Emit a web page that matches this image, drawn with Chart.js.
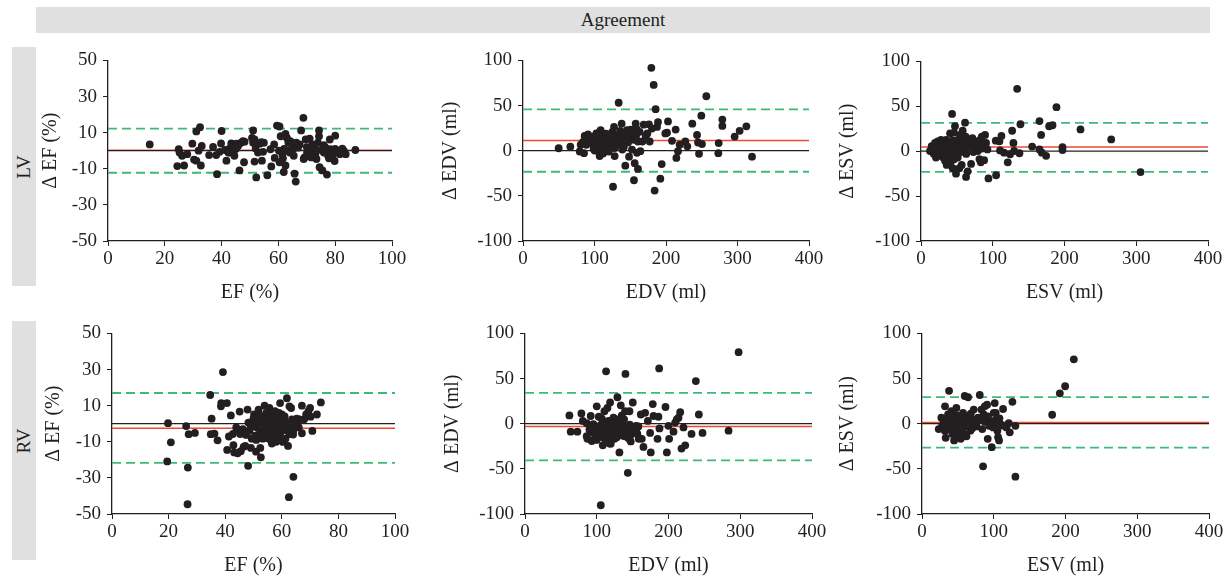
<!DOCTYPE html>
<html>
<head>
<meta charset="utf-8">
<script src="https://cdn.jsdelivr.net/npm/chart.js@4.4.0/dist/chart.umd.min.js"></script>
<style>
  body { margin: 0; background: #fff; width: 1231px; height: 580px; position: relative; overflow: hidden;
         font-family: "Liberation Serif", "DejaVu Serif", serif; color: #231f20; }
  .header { position: absolute; left: 36px; top: 7px; width: 1174px; height: 26px; background: #e0e0e0;
            text-align: center; line-height: 26px; font-size: 19px; }
  .row-label { position: absolute; left: 12px; width: 24px; background: #e0e0e0; }
  .row-label span { position: absolute; left: 50%; top: 50%; transform: translate(-50%, -50%) rotate(-90deg);
                    font-size: 19px; white-space: nowrap; }
  canvas { position: absolute; }
</style>
</head>
<body>
<div class="header">Agreement</div>
<div class="row-label" style="top:47px;height:239px"><span>LV</span></div>
<div class="row-label" style="top:321px;height:239px"><span>RV</span></div>

<script>
// Оси
const efXTicks = [0, 20, 40, 60, 80, 100];
const efYTicks = [-50, -30, -10, 10, 30, 50];
const volXTicks = [0, 100, 200, 300, 400];
const volYTicks = [-100, -50, 0, 50, 100];

// Среднее расхождение и границы согласия
const lvEfBias = 0.2,  lvEfLimits = [12.2, -12.2];
const lvEdvBias = 11.4, lvEdvLimits = [45.8, -23.3];
const lvEsvBias = 4.6, lvEsvLimits = [31.6, -23];
const rvEfBias = -2.5, rvEfLimits = [17, -21.7];
const rvEdvBias = -3.2, rvEdvLimits = [34.1, -40.6];
const rvEsvBias = 1.4, rvEsvLimits = [29.4, -26.6];

// Точки: [среднее, разница]
const lvEf = [[14.7,3.5],[24.9,0.8],[24.4,-8.5],[26.8,-8.2],[25.2,-1],[26.1,-2.8],[27.9,-1.9],[29.7,3.9],[30.3,-4.9],
  [31.1,-5.5],[31.1,10.7],[32.4,13],[31.9,0],[33,2.6],[32.7,-8.2],[35.6,-2.4],[37,2.1],[38.1,-2.4],[38.4,-13],[39.3,-0.6],
  [40,10.9],[39.8,4],[41.2,0.4],[41.7,-5.5],[42.4,-1],[42.8,1.2],[43.4,4],[44,0],[44.5,-2.8],[45.2,3.9],[45.8,2.6],
  [46.3,-10.9],[46.9,4.4],[47.5,5.3],[47.9,-6.4],[48.1,5],[51.1,11.2],[50.7,7.1],[51.1,4.4],[51.6,6.2],[52,1.2],
  [51.6,-6],[52.2,-14.8],[52.8,-1],[53.4,3.9],[54,4.8],[54.2,-5.5],[54.6,-0.6],[54.9,4.4],[56.1,-13.6],[57.2,0.8],
  [57.5,-8.7],[58.5,3.5],[58.7,-4],[59.5,13.9],[60.4,13.4],[60.2,0],[60.4,-6.4],[60.8,8],[61.4,-1.9],[61.6,-4.2],
  [61.9,-11.8],[62.5,-8.2],[62.5,9.3],[63,7.1],[63.5,4.4],[63.7,0],[64.2,5.3],[64.9,3.5],[65.1,0.8],[65.4,-2.8],
  [65.7,-12.7],[66.1,-17.1],[66.3,4.4],[66.9,1.7],[67.5,3.5],[68,11.2],[68.8,18.2],[68.9,-4.6],[69.2,-3.7],[69.6,6.2],
  [70.1,-1],[70.4,1.2],[71,6.7],[71.6,-3.7],[71.9,3.5],[72.2,0],[72.8,1.7],[73.4,-4.6],[73.9,4.4],[74.3,11.2],[74.3,8],
  [74.5,-9.1],[75.1,0.4],[75.5,-10.9],[76,3.1],[76.6,1.7],[77.1,-13.2],[77.5,-2.8],[77.8,-4.2],[78.1,6.2],[78.3,0.8],
  [79.2,-1.9],[79.8,-5.7],[80,8.3],[80.8,0],[81.6,-1.9],[82.5,1.2],[83,0],[83.7,-1.9],[87.1,0.4],
  [43,-1],[45,1],[62,1],[64,-1],[70,2],[73,-2],[76,-1],[80,1]];

const lvEdv = [[49.9,2.7],[66.2,4.5],[79.3,-0.9],[80.7,6.6],[83.9,9.8],[85.3,-2.7],[86.2,16.3],[88.6,6.6],[90.9,18.1],
  [93.2,12],[95.6,8.4],[97.9,15.6],[98.8,2],[100.2,0.2],[101.2,10.2],[102.6,19.1],[103.5,4.8],[104.9,14.5],[106.3,8.4],
  [107.2,20.9],[107.2,-5.9],[108.6,22.7],[109.6,3],[111,12],[111.9,17.4],[113.3,6.6],[114.2,10.2],[115.6,13.8],
  [116.6,4.8],[117.9,11.3],[118.9,0.2],[120.3,8.4],[122.1,12.7],[123.5,4.8],[124.9,20.9],[125.9,-39.9],[127.3,26.3],
  [128.2,-5.9],[129.6,8.4],[130.5,17.4],[132.9,6.6],[133.8,53.1],[135.2,13.8],[136.6,19.9],[138,29.9],[138.9,1.3],
  [140.8,10.2],[142.2,13.8],[143.1,-16.6],[145.5,22.7],[148.3,-6.6],[150.6,23.4],[152.4,1.3],[153.8,19.1],[155.2,-32.7],
  [156.2,-13.8],[157.6,29.9],[158.5,24.5],[159.4,-2.3],[160.8,-20.2],[160.8,10.2],[163.2,20.9],[164.1,-0.5],[166.9,10.2],
  [168.8,28.8],[171.6,16.3],[173.9,19.1],[176.2,29.2],[177.2,10.2],[179.5,91.8],[180.4,24.5],[182.8,72.8],[184.1,-44.2],
  [185.5,46],[187.4,26.3],[188.8,31.7],[192.1,-31],[194,-14.8],[199.1,19.1],[202.8,32.4],[201.4,19.9],[208.4,10.9],
  [213.5,23.4],[214.5,-8],[216.8,-0.5],[219.1,6.6],[227,10.2],[229.8,4.8],[236.8,29.9],[243.4,17.4],[244.8,9.1],
  [246.2,-3.4],[249.4,38.8],[250.3,7.3],[256.4,60.3],[273.7,8.4],[273.2,-2.7],[278.8,34.5],[278.8,27.4],[296,15.6],
  [303,22],[312.4,27],[320.3,-6.6],
  [98,8],[100,14],[102,5],[104,11],[106,17],[108,3],[110,9],[112,14],[114,6],[116,19],[118,8],[120,2],[121,13],[123,10],
  [126,16],[128,3],[131,11],[134,7],[136,22],[139,15],[141,4],[144,18],[147,9],[150,14],[152,20],[155,12],[158,16],
  [104,0],[112,-3],[120,-1]];

const lvEsv = [[12.6,0.2],[14.9,5.6],[17.2,-1.6],[19.5,9.2],[20.9,-7],[21.9,3.8],[23.3,11],[24.2,-3.4],[25.6,7.4],
  [26.5,2],[27.9,12.7],[28.8,-5.2],[30.2,5.6],[31.2,9.9],[32.6,0.2],[33.5,-10.6],[34.9,12.7],[35.8,-15.3],[36.7,3.8],
  [38.1,9.2],[39.5,-3.4],[40.5,19.9],[41.4,-11.7],[43.3,41.5],[44.2,-18.9],[46,20.6],[47.4,27.8],[48.8,-25],[49.8,7.4],
  [51.2,-7],[52.1,12.7],[53.5,-18.9],[54.4,18.1],[55.3,2],[56.7,-15.3],[58.1,22.8],[60,9.9],[61.4,31.8],[62.3,16.3],
  [62.8,-28.6],[63.7,3.8],[65.1,-22.4],[66,9.2],[68.4,12.7],[69.8,-14.2],[71.6,14.5],[74,9.2],[76.3,11],[77.7,5.6],
  [79.1,0.2],[81.4,-8.8],[82.3,12.7],[83.3,-12.4],[84.7,16.3],[87,9.2],[89.3,18.1],[90.7,9.2],[92.6,2],[94,-30.3],
  [104.2,11.7],[104.7,-26.8],[109.3,11],[110.2,0.9],[112.1,17],[115.8,-1.6],[120.9,-12.4],[124.2,-3.4],[127,22.8],
  [128.8,9.2],[129.8,0.2],[134,69.5],[137.2,-2.3],[138.6,30],[154.9,5.2],[165.1,33.6],[165.1,2],[167.4,18.1],
  [168.4,-1.6],[174.4,-5.2],[178.6,27.8],[183.3,28.9],[188.8,49],[197.2,4.5],[197.2,1.3],[222.3,24.2],[265.1,13.1],
  [306,-23.2],
  [16,2],[18,-3],[19,6],[20,1],[22,-5],[22,8],[24,3],[25,-1],[26,10],[27,5],[28,-2],[29,8],[30,1],[31,-7],[32,4],
  [33,11],[34,-3],[35,6],[36,0],[37,9],[38,-6],[39,3],[41,7],[42,-2],[44,12],[45,2],[46,-9],[48,5],[50,-4],[52,8],
  [55,-1],[57,14],[60,4],[63,-3],[66,12],[70,6],[73,-1],[78,10],[85,3],[88,-10]];

const rvEf = [[19.8,0.3],[19.5,-20.9],[20.8,-10.3],[26.2,-1.3],[26.8,-24.3],[26.7,-44.6],[27.1,-5.8],[29.3,-5.1],
  [34.7,15.9],[35.2,2.8],[34.9,-5.8],[36.2,-5.5],[37.3,-9.2],[38.5,9.6],[38.6,11.4],[39.2,28.6],[40.6,11.4],[40.7,-14.5],
  [41.3,-7.1],[42,4.6],[42.7,-5.7],[42.9,-11.9],[43.2,-15.9],[43.9,-2.1],[44.4,-16.4],[44.7,-3.9],[45.1,6.7],[45.3,-5.7],
  [45.5,-15.2],[46.2,-3],[46.5,-12.8],[47.1,-12.3],[47.4,-6.2],[47.9,7.8],[48.1,-23.3],[48.2,0.6],[48.6,-3.9],
  [49.1,-13.4],[49.4,-8.3],[49.8,-0.3],[50.2,5.1],[50.6,-6.6],[50.9,-15.5],[51.2,-2.1],[51.4,3.9],[51.8,7.8],[52.1,-5.7],
  [52.4,-13.4],[52.6,-18.6],[52.9,1.5],[53.3,-8.3],[53.5,-3.9],[53.9,10],[54.1,-0.3],[54.5,6],[54.7,-5.7],[55.1,2.4],
  [55.4,-3],[55.6,8.7],[55.9,-7.5],[56.2,0.6],[56.5,-11],[56.8,5.1],[57.1,-4.8],[57.3,-0.8],[57.6,6.9],[58,-8.3],
  [58.2,-3],[58.5,2.8],[58.8,-9.2],[59.2,-0.3],[59.4,11.4],[59.6,-4.8],[60,5.1],[60.4,-10.1],[60.6,-2.1],[60.9,1.5],
  [61.3,-8.3],[61.8,14.1],[62,-2.1],[62.2,-12.3],[62.5,-40.7],[62.7,9.6],[62.9,-5.7],[63.3,8.7],[63.6,2.4],[64.1,-29.4],
  [64.1,-3.9],[64.7,-0.3],[65.3,2.8],[66.2,2.4],[67.1,10],[67.1,-5.3],[67.9,2.4],[68.6,5.1],[69.4,6.9],[70,8.7],
  [70.2,3.9],[70.8,-4],[72.4,5.1],[73.8,11.8],
  [49,-2],[50,3],[51,-9],[52,0],[53,-5],[54,4],[55,-8],[55,1],[56,-3],[57,3],[57,-6],[58,0],[59,-7],[59,6],[60,-1],
  [61,4],[62,-4],[63,0],[64,-6],[65,1],[66,-2],[58,-10],[56,-9],[54,-1],[52,5]];

const rvEdv = [[61.9,9.2],[63.7,-8.8],[73,-8.8],[78.6,11.3],[80.5,3.1],[86,0.5],[86,-13.8],[87,-16.7],[89.8,-6.6],
  [91.6,8.5],[93,-19.2],[94.4,-9.5],[95.3,-0.5],[97.7,-14.9],[100,19.2],[100.9,-4.1],[102.8,7.7],[104.7,-11.7],
  [105.6,-90.3],[107,5.6],[108.4,-23.9],[109.3,-1.6],[110.7,13.8],[111.6,-16.7],[113,58],[114,-5.9],[114.9,17.4],
  [116.3,3.1],[117.7,-13.1],[118.6,23.5],[119.5,-22.1],[120.9,-2.3],[122.3,-9.5],[123.3,6.6],[124.7,-16.7],[125.6,-0.5],
  [127,-5.9],[127.9,4.9],[128.8,29.3],[130.2,-11.3],[131.6,-31.8],[132.6,-2.3],[133.5,20.3],[134.9,9.2],[136.3,-13.1],
  [138.1,4.9],[139.5,13.8],[140,55.1],[141.9,-7.7],[143.3,-54.4],[144.2,-16],[145.6,13.8],[147.4,-19.6],[149.3,-4.1],
  [150.2,23.5],[152.1,-7.7],[154.9,-2.3],[156.7,-11.3],[158.6,-16.7],[161.4,10.2],[162.8,-16.7],[165.1,-25.7],
  [167.4,12],[171.2,3.1],[174.4,-10.2],[175.3,-31.8],[178.1,21.7],[179.1,8.5],[184.7,-16.7],[186,7.7],[187,61.2],
  [187.4,-5.2],[195.8,18.5],[197.7,-31.8],[200,-2.3],[200.9,-16.7],[207,-8.8],[209.3,1.3],[211.6,4.9],[214,6.6],
  [216.3,12.7],[218.1,-27.5],[220.9,-4.1],[223.3,-23.9],[238.1,47.2],[242.3,10.2],[232.1,-11.3],[247.4,-10.2],
  [283.7,-7.7],[297.7,79.2],
  [95,-5],[98,-12],[102,-8],[105,-2],[108,-15],[110,-6],[112,1],[115,-10],[117,-3],[119,-18],[121,-7],[123,0],[125,-12],
  [127,-4],[129,-9],[131,2],[133,-6],[135,-11],[137,-2],[139,-14],[141,-4],[143,-8],[146,-1],[148,-12],[151,-6],
  [155,-9],[158,-3],[100,-18],[118,-22],[128,-15]];

const rvEsv = [[23.3,-5.9],[27,6.6],[28.4,-2.3],[30.2,2],[32.1,19.2],[33,-15.6],[34.9,-0.5],[36.3,10.2],[37.7,36.4],
  [38.6,-5.9],[40,4.9],[40.9,13.8],[42.3,-11.3],[43.3,-0.5],[44.7,-18.5],[45.6,8.4],[47,-5.9],[47.9,17.4],[48.8,3.1],
  [50.2,-13.1],[51.6,-2.3],[52.6,6.6],[54,-16.7],[54.9,-7.7],[56.3,1.3],[57.2,12],[58.6,-11.3],[59.5,30.7],[60.9,3.1],
  [62.8,-2.3],[64.2,29.3],[65.6,8.4],[67.4,-7.7],[70.2,4.9],[72.1,15.6],[74.9,-0.5],[78.1,6.6],[80.5,31.8],[82.8,15.6],
  [85.1,-47.2],[86,10.2],[87.4,19.2],[89.8,6.6],[90.7,21],[91.6,-16.7],[93.5,-2.3],[95.8,3.1],[97.2,-26],[99.1,-4.1],
  [101.4,22.8],[102.8,12],[103.7,4.9],[105.1,-7.7],[106,-14.9],[107.4,-18.5],[109.3,-0.5],[113,16.3],[117.7,-4.1],
  [120.9,0.5],[122.3,-9.5],[126,24.2],[130.2,-2.3],[130.2,-58.7],[181.4,9.9],[192.1,33.6],[199.5,41.5],[211.6,71.3],
  [28,-3],[30,5],[32,-8],[35,2],[37,-5],[38,8],[40,0],[42,-8],[43,10],[45,-3],[46,4],[48,-12],[49,9],[50,0],[51,-6],
  [53,3],[55,-10],[56,7],[58,-4],[60,1],[62,-14],[63,6],[66,-2],[68,11],[70,-5],[72,2],[76,-3],[80,5],[84,-6],[88,2],
  [92,8],[96,-1],[100,12],[104,-3],[108,6],[112,-2]];

// Расположение панелей (границы области графика в пикселях)
const panels = [
  { pts: lvEf,  bias: lvEfBias,  limits: lvEfLimits,  xTicks: efXTicks,  yTicks: efYTicks,  xTitle: "EF (%)",   yTitle: "\u0394 EF (%)",   L: 108, R: 392,  T: 55, B: 241, yw: 69 },
  { pts: lvEdv, bias: lvEdvBias, limits: lvEdvLimits, xTicks: volXTicks, yTicks: volYTicks, xTitle: "EDV (ml)", yTitle: "\u0394 EDV (ml)", L: 523, R: 809,  T: 55, B: 241, yw: 84 },
  { pts: lvEsv, bias: lvEsvBias, limits: lvEsvLimits, xTicks: volXTicks, yTicks: volYTicks, xTitle: "ESV (ml)", yTitle: "\u0394 ESV (ml)", L: 921, R: 1208, T: 56, B: 241, yw: 85 },
  { pts: rvEf,  bias: rvEfBias,  limits: rvEfLimits,  xTicks: efXTicks,  yTicks: efYTicks,  xTitle: "EF (%)",   yTitle: "\u0394 EF (%)",   L: 112, R: 395,  T: 328, B: 514, yw: 70 },
  { pts: rvEdv, bias: rvEdvBias, limits: rvEdvLimits, xTicks: volXTicks, yTicks: volYTicks, xTitle: "EDV (ml)", yTitle: "\u0394 EDV (ml)", L: 525, R: 812,  T: 328, B: 514, yw: 84 },
  { pts: rvEsv, bias: rvEsvBias, limits: rvEsvLimits, xTicks: volXTicks, yTicks: volYTicks, xTitle: "ESV (ml)", yTitle: "\u0394 ESV (ml)", L: 922, R: 1209, T: 328, B: 514, yw: 86 }
];

const ink = "#231f20";
const fontFamily = "'Liberation Serif', 'DejaVu Serif', serif";

function hLine(y, xMin, xMax, color, width, dash, order) {
  return {
    type: "line",
    data: [{ x: xMin, y: y }, { x: xMax, y: y }],
    borderColor: color,
    borderWidth: width,
    borderDash: dash,
    pointRadius: 0,
    fill: false,
    order: order
  };
}

function axis(ticks, title, fixSize) {
  return {
    type: "linear",
    min: ticks[0],
    max: ticks[ticks.length - 1],
    afterBuildTicks: s => { s.ticks = ticks.map(v => ({ value: v })); },
    afterFit: fixSize,
    grid: { display: true, drawOnChartArea: false, drawTicks: true, tickLength: 5, color: ink, lineWidth: 1 },
    border: { display: true, color: ink, width: 1.3 },
    ticks: { color: ink, font: { family: fontFamily, size: 19, weight: "normal" }, autoSkip: false, maxRotation: 0,
             callback: v => String(v) },
    title: { display: true, text: title, color: ink, font: { family: fontFamily, size: 20, weight: "normal" }, padding: 0 }
  };
}

function makePanel(p) {
  const padTop = 12, padRight = 22, xAxisH = 64;
  const w = p.yw + (p.R - p.L) + padRight;
  const h = padTop + (p.B - p.T) + xAxisH;
  const canvas = document.createElement("canvas");
  canvas.width = w;
  canvas.height = h;
  canvas.style.left = (p.L - p.yw) + "px";
  canvas.style.top = (p.T - padTop) + "px";
  canvas.style.width = w + "px";
  canvas.style.height = h + "px";
  document.body.appendChild(canvas);

  const xMin = p.xTicks[0], xMax = p.xTicks[p.xTicks.length - 1];
  const xAxis = axis(p.xTicks, p.xTitle, s => { s.height = xAxisH; });
  xAxis.ticks.padding = 2;
  const yAxis = axis(p.yTicks, p.yTitle, s => { s.width = p.yw; });
  yAxis.ticks.padding = 6;

  new Chart(canvas, {
    type: "scatter",
    data: {
      datasets: [
        hLine(p.bias, xMin, xMax, "#ef4a2f", 1.5, [], 3),
        hLine(0, xMin, xMax, ink, 1.3, [], 2),
        hLine(p.limits[0], xMin, xMax, "#3cba78", 1.8, [9, 5], 2),
        hLine(p.limits[1], xMin, xMax, "#3cba78", 1.8, [9, 5], 2),
        {
          type: "scatter",
          data: p.pts.map(([x, y]) => ({ x: x, y: y })),
          backgroundColor: ink,
          borderWidth: 0,
          pointRadius: 3.9,
          order: 0
        }
      ]
    },
    options: {
      responsive: false,
      animation: false,
      layout: { padding: { top: padTop, right: padRight, bottom: 0, left: 0 } },
      plugins: { legend: { display: false }, tooltip: { enabled: false } },
      scales: { x: xAxis, y: yAxis }
    }
  });
}

panels.forEach(makePanel);
</script>
</body>
</html>
